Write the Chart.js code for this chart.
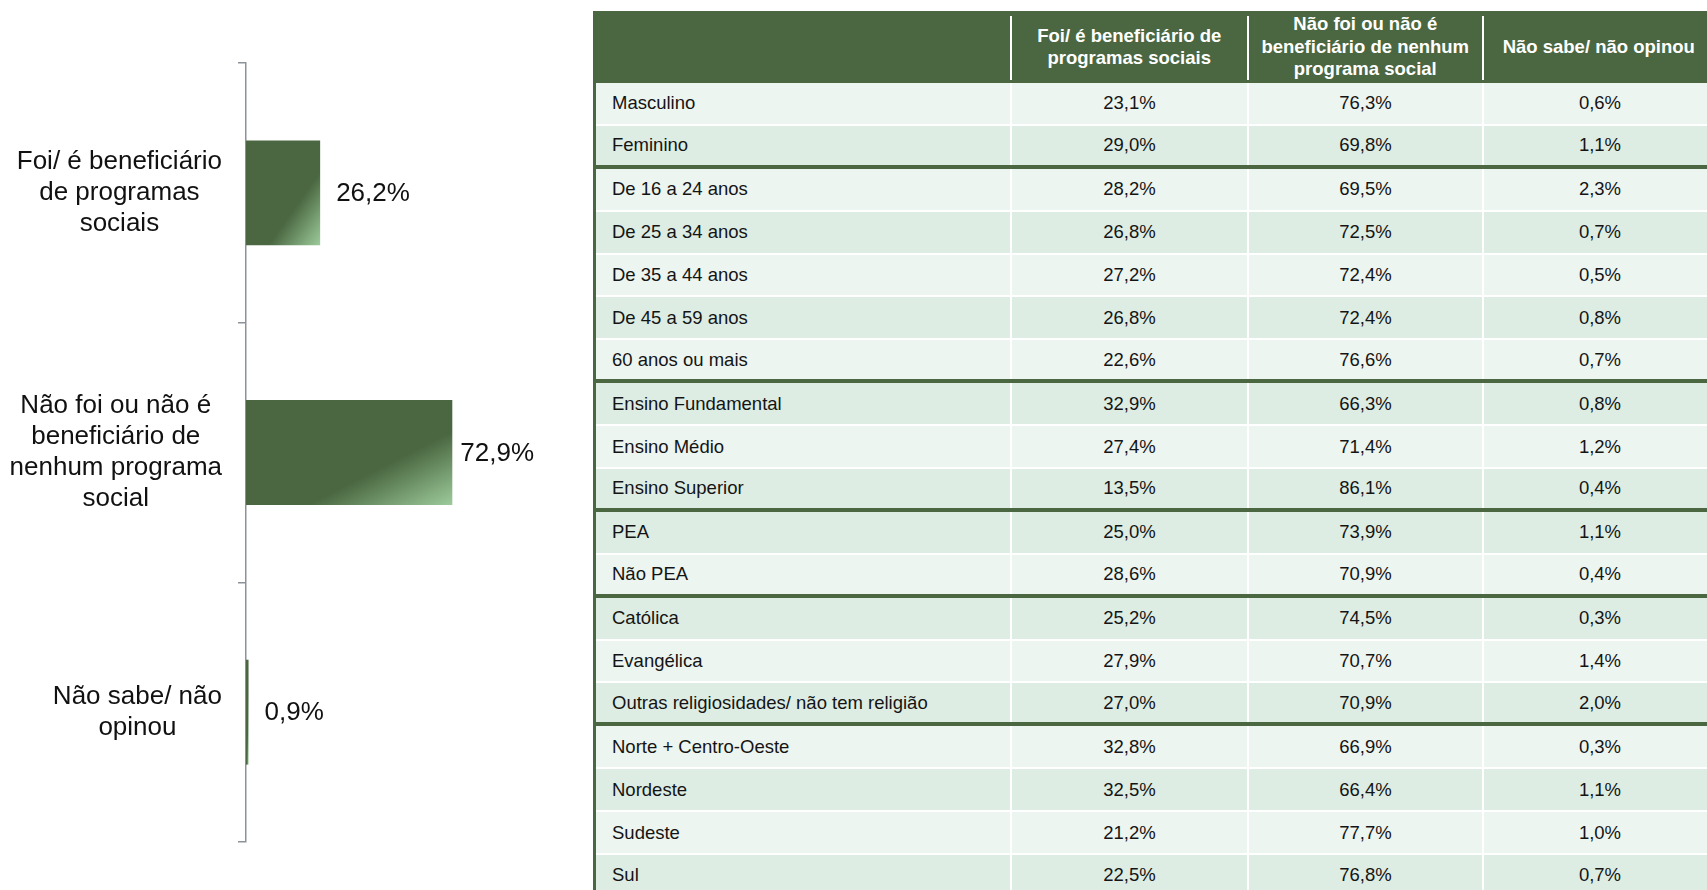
<!DOCTYPE html>
<html lang="pt-BR">
<head>
<meta charset="utf-8">
<title>Programas sociais</title>
<script src="https://cdn.jsdelivr.net/npm/chart.js@4.4.1/dist/chart.umd.min.js"></script>
<style>
  html, body { margin: 0; padding: 0; background: #fff; width: 1707px; height: 890px; overflow: hidden;
    font-family: "Liberation Sans", Arial, sans-serif; }
  #grafico { position: absolute; left: 0; top: 0; width: 580px; height: 890px; }
  #tabela { position: absolute; left: 593px; top: 11px; border-left: 3px solid #4a6741; }
  .cab { display: flex; height: 72px; background: #4a6741; }
  .linha { display: flex; height: 42.9px; box-sizing: border-box; border-bottom: 2.5px solid #fff; }
  .linha.fim { border-bottom: 4.5px solid #4a6741; }
  .cel { box-sizing: border-box; border-right: 2.5px solid #fff; display: flex; align-items: center;
    justify-content: center; font-size: 18.5px; color: #141414; }
  .cel:last-child { border-right: none; }
  .cel.rot { justify-content: flex-start; padding-left: 16px; }
  .cab .cel { border-right: none; padding-right: 2.5px; position: relative; color: #fff; font-weight: bold;
    text-align: center; line-height: 22.5px; }
  .cab .cel::after { content: ''; position: absolute; right: 0; top: 5px; bottom: 3px; width: 2.5px; background: #fff; }
  .cab .cel:last-child::after { display: none; }
</style>
</head>
<body>
<div id="grafico"><canvas id="barras"></canvas></div>
<div id="tabela"></div>
<script>
// grafico de barras
const categorias = [
  ['Foi/ é beneficiário', 'de programas', 'sociais'],
  ['Não foi ou não é', 'beneficiário de', 'nenhum programa', 'social'],
  ['Não sabe/ não', 'opinou']
];
const totais = [26.2, 72.9, 0.9];

// tabela
const colunas = [
  [],
  ['Foi/ é beneficiário de', 'programas sociais'],
  ['Não foi ou não é', 'beneficiário de nenhum', 'programa social'],
  ['Não sabe/ não opinou']
];
const segmentos = ['Masculino', 'Feminino', 'De 16 a 24 anos', 'De 25 a 34 anos', 'De 35 a 44 anos',
  'De 45 a 59 anos', '60 anos ou mais', 'Ensino Fundamental', 'Ensino Médio', 'Ensino Superior',
  'PEA', 'Não PEA', 'Católica', 'Evangélica', 'Outras religiosidades/ não tem religião',
  'Norte + Centro-Oeste', 'Nordeste', 'Sudeste', 'Sul'];
const foiBeneficiario = [23.1, 29.0, 28.2, 26.8, 27.2, 26.8, 22.6, 32.9, 27.4, 13.5, 25.0, 28.6, 25.2, 27.9, 27.0, 32.8, 32.5, 21.2, 22.5];
const naoBeneficiario = [76.3, 69.8, 69.5, 72.5, 72.4, 72.4, 76.6, 66.3, 71.4, 86.1, 73.9, 70.9, 74.5, 70.7, 70.9, 66.9, 66.4, 77.7, 76.8];
const naoSabe = [0.6, 1.1, 2.3, 0.7, 0.5, 0.8, 0.7, 0.8, 1.2, 0.4, 1.1, 0.4, 0.3, 1.4, 2.0, 0.3, 1.1, 1.0, 0.7];
const tamanhoGrupos = [2, 5, 3, 2, 3, 4];

const larguras = [416, 237, 235, 232];
const tons = [0, 1, 0, 1, 0, 1, 0, 1, 0, 1, 1, 0, 1, 0, 1, 0, 1, 0, 1];
const corTons = ['#edf5f0', '#ddede3'];

const VERDE = '#4a6741';
const VERDE_CLARO = '#9dcb9b';
const BAR_PCT = 0.404;

const fmt = v => v.toFixed(1).replace('.', ',') + '%';

function montarTabela() {
  const tabela = document.getElementById('tabela');
  let html = '<div class="cab">';
  colunas.forEach((linhas, i) => {
    html += `<div class="cel" style="width:${larguras[i]}px">${linhas.join('<br>')}</div>`;
  });
  html += '</div>';

  const fins = [];
  let acc = 0;
  tamanhoGrupos.forEach(n => { acc += n; fins.push(acc - 1); });

  segmentos.forEach((nome, i) => {
    const fim = fins.includes(i) && i !== segmentos.length - 1;
    html += `<div class="linha${fim ? ' fim' : ''}" style="background:${corTons[tons[i]]}">`;
    html += `<div class="cel rot" style="width:${larguras[0]}px">${nome}</div>`;
    [foiBeneficiario, naoBeneficiario, naoSabe].forEach((serie, j) => {
      html += `<div class="cel" style="width:${larguras[j + 1]}px">${fmt(serie[i])}</div>`;
    });
    html += '</div>';
  });
  tabela.innerHTML = html;
}

// degrade diagonal relativo a caixa da barra (canto inferior direito mais claro)
function gradiente(c) {
  const chart = c.chart;
  const xs = chart.scales.x, ys = chart.scales.y;
  if (!chart.chartArea || !xs || !ys || c.type !== 'data') return VERDE;
  const x0 = xs.getPixelForValue(0);
  const xr = xs.getPixelForValue(c.raw);
  const passo = Math.abs(ys.getPixelForValue(1) - ys.getPixelForValue(0));
  const h = passo * BAR_PCT;
  const w = Math.max(xr - x0, 0.5);
  const yb = ys.getPixelForValue(c.dataIndex) + h / 2;
  const t = 0.7 / (1 / (w * w) + 1 / (h * h));
  const g = chart.ctx.createLinearGradient(xr - t / w, yb - t / h, xr, yb);
  g.addColorStop(0, VERDE);
  g.addColorStop(1, VERDE_CLARO);
  return g;
}

const rotulos = {
  id: 'rotulos',
  afterDraw(chart) {
    const { ctx, chartArea, scales } = chart;
    ctx.save();
    ctx.font = '26px "Liberation Sans", Arial, sans-serif';
    ctx.fillStyle = '#111';
    ctx.textBaseline = 'middle';

    // categorias: bloco alinhado a direita, linhas centralizadas
    const direita = chartArea.left - 24;
    const altLinha = 31;
    categorias.forEach((linhas, i) => {
      const yc = scales.y.getPixelForValue(i);
      const maxW = Math.max(...linhas.map(l => ctx.measureText(l).width));
      const cx = direita - maxW / 2;
      ctx.textAlign = 'center';
      linhas.forEach((l, k) => {
        ctx.fillText(l, cx, yc + (k - (linhas.length - 1) / 2) * altLinha);
      });
    });

    // valores
    ctx.textAlign = 'left';
    const meta = chart.getDatasetMeta(0);
    meta.data.forEach((bar, i) => {
      const txt = fmt(totais[i]);
      const w = ctx.measureText(txt).width;
      const x = Math.min(bar.x + 16, chartArea.right + 5 - w);
      ctx.fillText(txt, x, bar.y + 1);
    });
    ctx.restore();
  }
};

function montarGrafico() {
  const ctx = document.getElementById('barras').getContext('2d');
  new Chart(ctx, {
    type: 'bar',
    data: {
      labels: categorias,
      datasets: [{
        data: totais,
        backgroundColor: gradiente,
        borderWidth: 0,
        barPercentage: BAR_PCT,
        categoryPercentage: 1
      }]
    },
    options: {
      indexAxis: 'y',
      responsive: true,
      maintainAspectRatio: false,
      animation: false,
      layout: { padding: { top: 63, bottom: 48, left: 0, right: 51 } },
      scales: {
        x: { display: false, min: 0, max: 100 },
        y: {
          ticks: { display: false },
          grid: { drawOnChartArea: false, tickLength: 8, color: '#8c9299', lineWidth: 1.5 },
          border: { color: '#8c9299', width: 1.5 },
          afterFit: s => { s.width = 246; }
        }
      },
      plugins: {
        legend: { display: false },
        tooltip: { enabled: false }
      }
    },
    plugins: [rotulos]
  });
}

montarTabela();
montarGrafico();
</script>
</body>
</html>
